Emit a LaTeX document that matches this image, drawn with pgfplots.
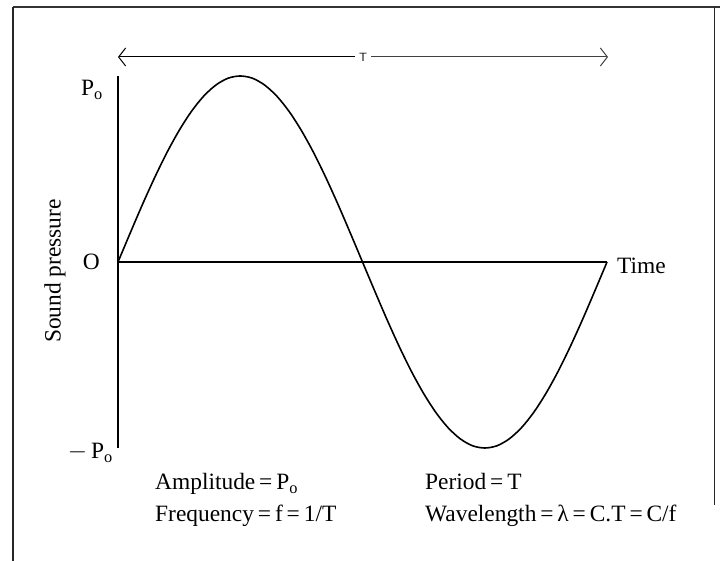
\documentclass[border=0pt]{standalone}
\usepackage{fontspec}
\setmainfont{Liberation Serif}
\usepackage{pgfplots}
\pgfplotsset{compat=1.18}
\usetikzlibrary{arrows.meta}
\begin{document}
\begin{tikzpicture}[x=1bp,y=1bp]
\useasboundingbox (0,0) rectangle (720,561);
\coordinate (A) at (118,113);
% frame of the page
\draw[line width=1.3bp, black!80] (13,554) -- (720,554);
\draw[line width=1.3bp, black!85] (13,554) -- (13,0);
\draw[line width=1bp, black!85] (714,554) -- (714,56);
\begin{axis}[
  anchor=south west, at={(A)},
  scale only axis, width=489bp, height=372bp,
  xmin=0, xmax=1, ymin=-1, ymax=1,
  axis x line=middle, axis y line=left,
  axis line style={-, line width=1.4bp},
  every inner x axis line/.append style={-},
  every outer y axis line/.append style={-},
  xtick=\empty, ytick=\empty,
  clip=false,
  font=\fontsize{23.5}{26}\selectfont,
]
\addplot[smooth, line width=1.6bp, black] coordinates {
(0,0) (0.025,0.156) (0.05,0.309) (0.075,0.454) (0.1,0.588) (0.125,0.707)
(0.15,0.809) (0.175,0.891) (0.2,0.951) (0.225,0.988) (0.25,1)
(0.275,0.988) (0.3,0.951) (0.325,0.891) (0.35,0.809) (0.375,0.707)
(0.4,0.588) (0.425,0.454) (0.45,0.309) (0.475,0.156) (0.5,0)
(0.525,-0.156) (0.55,-0.309) (0.575,-0.454) (0.6,-0.588) (0.625,-0.707)
(0.65,-0.809) (0.675,-0.891) (0.7,-0.951) (0.725,-0.988) (0.75,-1)
(0.775,-0.988) (0.8,-0.951) (0.825,-0.891) (0.85,-0.809) (0.875,-0.707)
(0.9,-0.588) (0.925,-0.454) (0.95,-0.309) (0.975,-0.156) (1,0)
};
\node[anchor=north east, inner sep=0pt] at (axis cs:0,1) [xshift=-15bp, yshift=-4bp] {P\textsubscript{o}};
\node[anchor=east, inner sep=0pt] at (axis cs:0,-1) [xshift=-5bp, yshift=-5bp] {$-$\,P\textsubscript{o}};
\node[anchor=east, inner sep=0pt] at (axis cs:0,0) [xshift=-18bp] {O};
\node[anchor=west, inner sep=0pt] at (axis cs:1,0) [xshift=10bp, yshift=-4bp] {Time};
\end{axis}
% period arrow
\draw[line width=1bp, {Straight Barb[length=7bp,width=18bp]}-] (118,504) -- (355,504);
\draw[line width=1bp, black!75, -{Straight Barb[length=7bp,width=18bp]}] (371,504) -- (608,504);
\node[inner sep=0pt, font=\sffamily\fontsize{12}{12}\selectfont] at (363,504) {T};
% y label
\node[rotate=90, font=\fontsize{23.5}{26}\selectfont] at (55,290) {Sound pressure};
% bottom text
\begin{scope}[every node/.style={anchor=base west, inner sep=0pt, font=\fontsize{23.5}{26}\selectfont}]
\node at (155,71) {Amplitude\,=\,P\textsubscript{o}};
\node at (425,71) {Period\,=\,T};
\node at (155,39) {Frequency\,=\,f\,=\,1/T};
\node at (425,39) {Wavelength\,=\,λ\,=\,C.T\,=\,C/f};
\end{scope}
\end{tikzpicture}
\end{document}
